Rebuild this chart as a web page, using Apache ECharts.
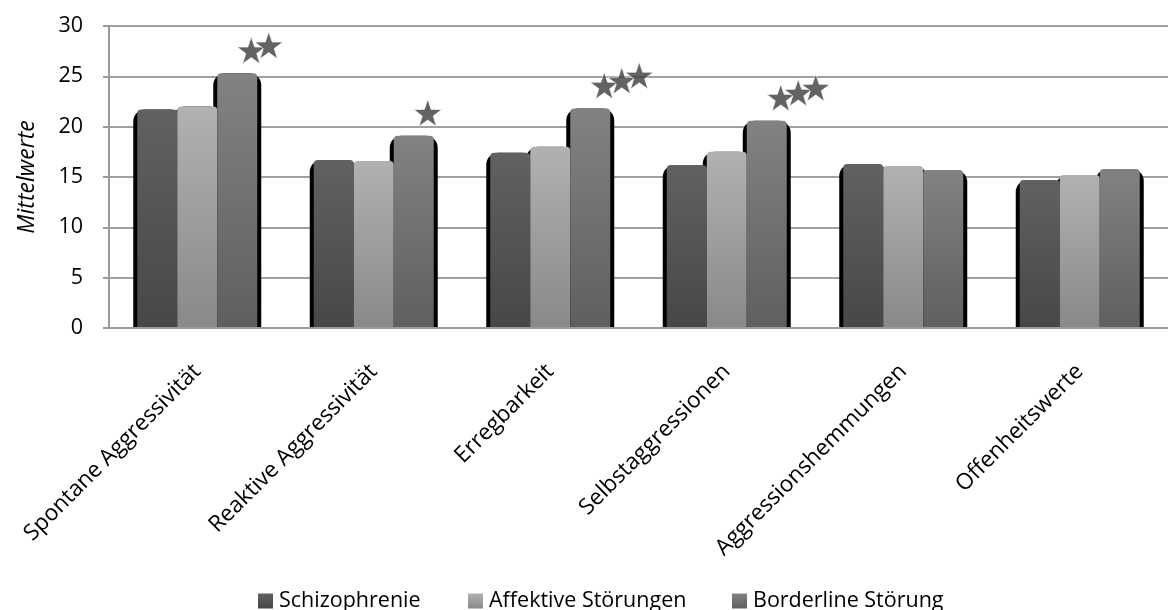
<!DOCTYPE html>
<html>
<head>
<meta charset="utf-8">
<script src="https://cdn.jsdelivr.net/npm/echarts@6/dist/echarts.min.js"></script>
<style>
html,body{margin:0;padding:0;background:#fff;}
#chart{width:1168px;height:610px;}
</style>
</head>
<body>
<div id="chart"></div>
<script>
const categories = ['Spontane Aggressivität','Reaktive Aggressivität','Erregbarkeit','Selbstaggressionen','Aggressionshemmungen','Offenheitswerte'];
const seriesNames = ['Schizophrenie','Affektive Störungen','Borderline Störung'];
const schizophrenie = [21.7, 16.7, 17.4, 16.2, 16.3, 14.7];
const affektive = [22.0, 16.6, 18.0, 17.5, 16.1, 15.2];
const borderline = [25.3, 19.1, 21.8, 20.6, 15.7, 15.8];
const stars = [2, 1, 3, 3, 0, 0];
const yTicks = [0, 5, 10, 15, 20, 25, 30];

const FONT = 'Open Sans';
const values = [schizophrenie, affektive, borderline];
const gradients = [
  ['#616161', '#474747'],
  ['#b1b1b1', '#898989'],
  ['#828282', '#5f5f5f']
];
function grad(c) {
  return new echarts.graphic.LinearGradient(0, 0, 0, 1, [{offset: 0, color: c[0]}, {offset: 1, color: c[1]}]);
}

const series = [];
// shadow bars (drawn first, on hidden twin axis)
values.forEach((v, i) => {
  series.push({
    type: 'bar', xAxisIndex: 1, data: v, barWidth: 48, barGap: '-16.67%',
    z: 1, silent: true, legendHoverLink: false,
    itemStyle: {color: '#000', borderColor: '#000', borderWidth: 6, borderRadius: [9, 9, 0, 0]}
  });
});
values.forEach((v, i) => {
  series.push({
    type: 'bar', name: seriesNames[i], xAxisIndex: 0, data: v, barWidth: 40, barGap: '0%',
    z: 3,
    itemStyle: {color: grad(gradients[i]), borderRadius: [4, 4, 0, 0]}
  });
});
// significance stars
const starData = [];
stars.forEach((n, ci) => {
  for (let k = 0; k < n; k++) {
    starData.push({value: [ci, borderline[ci]], symbolOffset: [54 + 17.5 * k, -23 - 5 * k]});
  }
});
series.push({
  type: 'scatter', xAxisIndex: 0, data: starData, z: 6, silent: true,
  symbol: 'path://M50,0 L61.8,35.1 L98.9,35.5 L69.1,57.6 L80.2,93 L50,71.5 L19.8,93 L30.9,57.6 L1.1,35.5 L38.2,35.1 Z',
  symbolSize: [28, 27],
  itemStyle: {color: '#3c3c3c', borderColor: '#ffffff', borderWidth: 0.8}
});

const legendPos = [253, 463, 727];
const legends = seriesNames.map((n, i) => ({
  data: [n], left: legendPos[i], top: 585, itemWidth: 15, itemHeight: 15, itemGap: 0,
  icon: 'rect', textStyle: {fontFamily: FONT, fontSize: 21.5, color: '#000', padding: [0, 0, 0, 1]},
  selectedMode: false
}));

const chart = echarts.init(document.getElementById('chart'), null, {renderer: 'canvas'});
chart.setOption({
  animation: false,
  backgroundColor: '#fff',
  grid: {left: 109, right: -12, top: 26, bottom: 282, containLabel: false},
  legend: legends,
  xAxis: [{
    type: 'category', data: categories, z: 10,
    axisLine: {lineStyle: {color: '#9a9a9a', width: 2}},
    axisTick: {show: false},
    axisLabel: {rotate: 45, margin: 40, fontFamily: FONT, fontSize: 22.5, color: '#000', interval: 0}
  }, {
    type: 'category', data: categories, show: false
  }],
  yAxis: {
    type: 'value', min: 0, max: 30, interval: 5,
    name: 'Mittelwerte', nameLocation: 'middle', nameGap: 70, nameRotate: 90,
    nameTextStyle: {fontFamily: FONT, fontSize: 23, fontStyle: 'italic', color: '#000'},
    axisLine: {show: true, lineStyle: {color: '#9a9a9a', width: 2}},
    axisTick: {show: true, length: 6, lineStyle: {color: '#9a9a9a', width: 2}},
    axisLabel: {fontFamily: FONT, fontSize: 21.5, color: '#000', margin: 26,
      formatter: v => yTicks.includes(v) ? String(v) : ''},
    splitLine: {lineStyle: {color: '#a0a0a0', width: 2}}
  },
  series: series
});
</script>
</body>
</html>
